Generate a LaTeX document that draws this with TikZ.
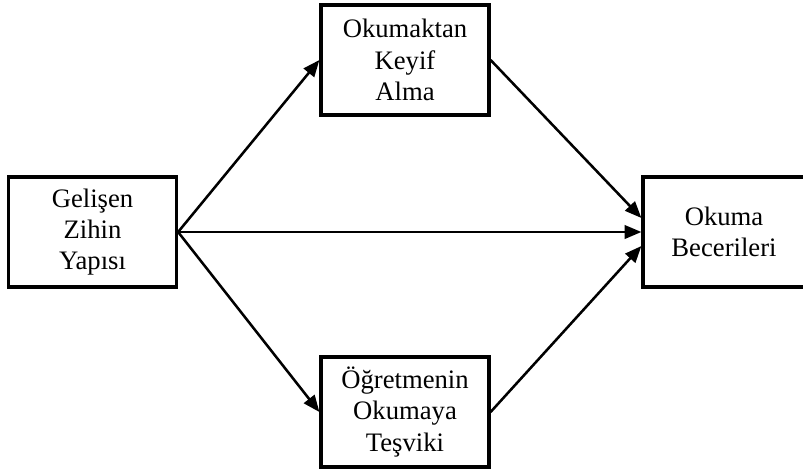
\documentclass[tikz,border=0pt]{standalone}
\usepackage{fontspec}
\setmainfont{Liberation Serif}
\usetikzlibrary{arrows.meta}
\begin{document}
\begin{tikzpicture}[x=0.75pt,y=-0.75pt,
 box/.style={draw, line width=2.4pt, minimum width=126pt, minimum height=82.5pt, align=center, font=\fontsize{20}{23.5}\selectfont, inner sep=0pt},
 arr/.style={line width=1.9pt, -{Triangle[length=12.5pt,width=10pt]}}]
\useasboundingbox (0,0) rectangle (803,471);
\node[box] (G) at (92.5,232) {Gelişen\\Zihin\\Yapısı};
\node[box] (T) at (405,60) {Okumaktan\\Keyif\\Alma};
\node[box] (B) at (405,412) {Öğretmenin\\Okumaya\\Teşviki};
\node[box, minimum width=121.5pt] (R) at (724,232) {Okuma\\Becerileri};
\draw[arr] (G.east) -- (T.west);
\draw[arr] (G.east) -- (R.west);
\draw[arr] (G.east) -- (B.west);
\draw[arr] (T.east) -- ([yshift=10.5pt]R.west);
\draw[arr] (B.east) -- ([yshift=-10.5pt]R.west);
\end{tikzpicture}
\end{document}
